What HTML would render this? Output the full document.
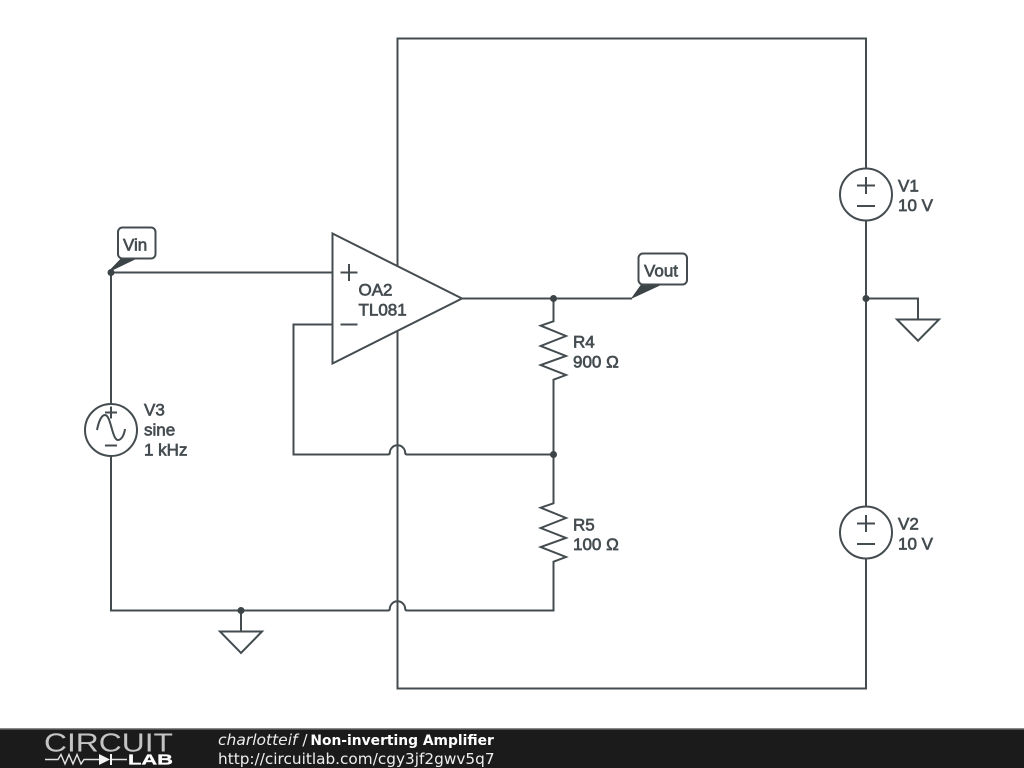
<!DOCTYPE html>
<html><head><meta charset="utf-8"><style>
html,body{margin:0;padding:0;background:#fff;width:1024px;height:768px;overflow:hidden}
svg{display:block}
.w{fill:none;stroke:#444c50;stroke-width:2;stroke-linejoin:miter}
.l{font-family:"Liberation Sans",sans-serif;font-size:17px;fill:#444c50;stroke:#444c50;stroke-width:.65}
.f{font-family:"DejaVu Sans",sans-serif;font-size:15.3px;fill:#eee}
</style></head><body>
<svg width="1024" height="768" viewBox="0 0 1024 768" xmlns="http://www.w3.org/2000/svg">
<rect width="1024" height="768" fill="#fff"/>
<!-- outer supply loop -->
<path class="w" d="M397.500 267V38.500H866V688.500H397.500V330"/>
<!-- input / feedback -->
<path class="w" d="M332.500 272.500H111V610.500H388Q389.500 610.500 389.800 609A7.700 7.700 0 0 1 405.200 609Q405.500 610.500 407 610.500H553.500V561.700L566 557L540.700 547L566 538L540.700 528L566 518L540.700 507.700L553.500 503.300V454.500H407Q405.500 454.500 405.200 453A7.700 7.700 0 0 0 389.800 453Q389.500 454.500 388 454.500H293.500V324.500H332.500"/>
<path class="w" d="M462 298.500H632"/>
<path class="w" d="M553.500 298.500V321.300L540.700 325.700L566 336L540.700 346L566 356L540.700 365L566 375L553.500 379.700V454.500"/>
<!-- grounds -->
<path class="w" d="M866 298.500H918V319"/>
<path class="w" d="M897 319.500H939L918 340.700Z"/>
<path class="w" d="M241 610.500V631"/>
<path class="w" d="M220 631.500H262L241 653Z"/>
<!-- opamp -->
<path class="w" style="fill:#fff" d="M332.500 233.500L462 298.500L332.500 363.500Z"/>
<path class="w" d="M340.500 272.500H357.500M349 264V281M340.500 324.500H357.500"/>
<!-- sources -->
<circle class="w" style="fill:#fff" cx="866" cy="194.500" r="26"/>
<path class="w" d="M857 185.500H875M866 177V194M857 206H875"/>
<circle class="w" style="fill:#fff" cx="866" cy="532.500" r="26"/>
<path class="w" d="M857 523.500H875M866 515V532M857 544H875"/>
<circle class="w" style="fill:#fff" cx="111" cy="430" r="26"/>
<path class="w" d="M105 412.500H117M111 406.500V418.500M105 445.500H117"/>
<path class="w" d="M97 430C99 420 102 415 105 415C111 415 112 440 118 440C121 440 124 436 125 429"/>
<!-- junctions -->
<g fill="#3c4448"><circle cx="111" cy="272.500" r="3.500"/><circle cx="553.500" cy="298.500" r="3.500"/><circle cx="553.500" cy="454.500" r="3.500"/><circle cx="866" cy="298.500" r="3.500"/><circle cx="241" cy="610.500" r="3.500"/></g>
<!-- net labels -->
<path d="M109 271.500L122 258H137Z" fill="#3c4448" stroke="#3c4448"/>
<rect x="118" y="227.500" width="37.500" height="31" rx="4.500" fill="#fff" stroke="#444c50" stroke-width="2"/>
<text class="l" x="123" y="250.500">Vin</text>
<path d="M632 298L642 284H662Z" fill="#3c4448" stroke="#3c4448"/>
<rect x="638.500" y="253.500" width="48.500" height="31" rx="4.500" fill="#fff" stroke="#444c50" stroke-width="2"/>
<text class="l" x="644" y="276.500">Vout</text>
<!-- labels -->
<text class="l" x="358.500" y="295.500">OA2</text><text class="l" x="358.500" y="315.500">TL081</text>
<text class="l" x="144" y="415.500">V3</text><text class="l" x="144" y="435.500">sine</text><text class="l" x="144" y="455.500">1 kHz</text>
<text class="l" x="573" y="347.500">R4</text><text class="l" x="573" y="367.500">900 Ω</text>
<text class="l" x="573" y="530.500">R5</text><text class="l" x="573" y="550">100 Ω</text>
<text class="l" x="898" y="191.500">V1</text><text class="l" x="898" y="211">10 V</text>
<text class="l" x="898" y="529.500">V2</text><text class="l" x="898" y="549.500">10 V</text>
<!-- footer -->
<rect y="728" width="1024" height="2" fill="#8a8a8a"/>
<rect y="729.500" width="1024" height="38.500" fill="#1b1b1b"/>
<text x="44" y="751.500" font-family="Liberation Sans,sans-serif" font-size="25.500" fill="#c4c4c4" textLength="129" lengthAdjust="spacingAndGlyphs">CIRCUIT</text>
<path d="M45 759.500H58L61 754.500L65 764L69 754.500L73 764L77 754.500L81 764L84 759.500H99M112 759.500H127" fill="none" stroke="#e4e4e4" stroke-width="1.400"/>
<path d="M99 754L110 759.500L99 765Z" fill="#f4f4f4"/><rect x="110" y="754" width="2" height="11" fill="#f4f4f4"/>
<text x="128" y="764.500" font-family="Liberation Sans,sans-serif" font-size="14.500" font-weight="bold" fill="#fff" stroke="#fff" stroke-width=".3" textLength="45" lengthAdjust="spacingAndGlyphs">LAB</text>
<text class="f" x="218" y="745"><tspan font-style="italic" font-size="15.500">charlotteif</tspan> / <tspan dx="-2" font-weight="bold" font-size="13.850" fill="#fff">Non-inverting Amplifier</tspan></text>
<text class="f" x="218" y="764">http://circuitlab.com/cgy3jf2gwv5q7</text>
</svg>
</body></html>
